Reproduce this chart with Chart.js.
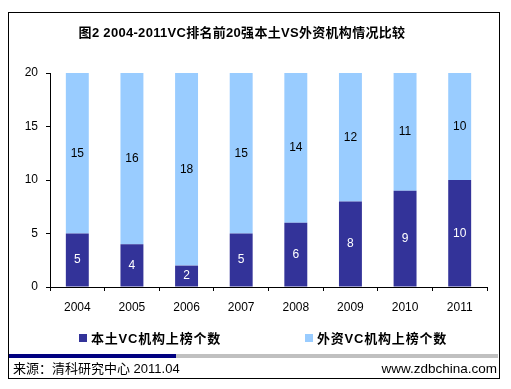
<!DOCTYPE html>
<html><head><meta charset="utf-8">
<script src="https://cdn.jsdelivr.net/npm/chart.js@4"></script>
<style>
html,body{margin:0;padding:0;background:#fff;}
#wrap{position:relative;width:511px;height:389px;overflow:hidden;font-family:"Liberation Sans",Arial,sans-serif;}
#c{position:absolute;left:0;top:0;}
.abs{position:absolute;white-space:nowrap;}
#frame{left:8px;top:12px;width:490px;height:365px;border:1px solid #000;}
#title{left:0;width:484px;top:22px;text-align:center;font:bold 13px "Liberation Sans","Noto Sans CJK SC",sans-serif;color:#000;letter-spacing:0.3px;}
.lg{top:331px;font:bold 13px "Liberation Sans","Noto Sans CJK SC",sans-serif;color:#000;line-height:16px;letter-spacing:0.8px;}
.sw{display:inline-block;width:8px;height:8px;margin-right:4px;vertical-align:1px;}
#bl{left:9px;top:354px;width:167px;height:4px;background:#000080;}
#gl{left:176px;top:354px;width:322px;height:4px;background:#C0C0C0;}
#src{left:13px;top:361px;font:13px "Liberation Sans","Noto Sans CJK SC",sans-serif;color:#000;line-height:16px;}
#url{right:14px;top:361px;font:13.5px "Liberation Sans",Arial,sans-serif;color:#000;line-height:16px;}
</style></head>
<body><div id="wrap">
<canvas id="c" width="511" height="389"></canvas>
<div id="frame" class="abs"></div>
<div id="title" class="abs">图2 2004-2011VC排名前20强本土VS外资机构情况比较</div>
<div class="abs lg" style="left:79px"><span class="sw" style="background:#333399"></span>本土VC机构上榜个数</div>
<div class="abs lg" style="left:305px"><span class="sw" style="background:#99CCFF"></span>外资VC机构上榜个数</div>
<div id="bl" class="abs"></div><div id="gl" class="abs"></div>
<div id="src" class="abs">来源：清科研究中心 2011.04</div>
<div id="url" class="abs">www.zdbchina.com</div>
</div>
<script>
const categories = ["2004","2005","2006","2007","2008","2009","2010","2011"];
const domestic = [5,4,2,5,6,8,9,10];
const foreign = [15,16,18,15,14,12,11,10];
const yTicks = [0,5,10,15,20];
const seriesNames = ["本土VC机构上榜个数","外资VC机构上榜个数"];

const labelPlugin = {
  id:'segLabels',
  afterDatasetsDraw(chart){
    const ctx = chart.ctx;
    ctx.save();
    ctx.font = '12px "Liberation Sans", Arial, sans-serif';
    ctx.textAlign='center'; ctx.textBaseline='middle';
    chart.data.datasets.forEach((ds,i)=>{
      const meta = chart.getDatasetMeta(i);
      meta.data.forEach((bar,j)=>{
        const cy = (bar.y + bar.base)/2;
        ctx.fillStyle = i===0 ? '#ffffff' : '#000000';
        ctx.fillText(String(ds.data[j]), bar.x, cy);
      });
    });
    ctx.restore();
  }
};

new Chart(document.getElementById('c'),{
  type:'bar',
  data:{labels:categories,datasets:[
    {label:seriesNames[0],data:domestic,backgroundColor:'#333399',barPercentage:0.42,categoryPercentage:1},
    {label:seriesNames[1],data:foreign,backgroundColor:'#99CCFF',barPercentage:0.42,categoryPercentage:1}
  ]},
  options:{
    responsive:false,animation:false,
    layout:{padding:{left:0,right:24,top:73,bottom:77}},
    plugins:{legend:{display:false},tooltip:{enabled:false},title:{display:false}},
    scales:{
      x:{stacked:true,
        grid:{offset:true,drawOnChartArea:false,drawTicks:true,tickLength:4,color:'#000',tickColor:'#000'},
        border:{color:'#000',width:1},
        ticks:{color:'#000',font:{family:'"Liberation Sans", Arial, sans-serif',size:12},padding:9,maxRotation:0},
        afterFit(s){s.height=25;}
      },
      y:{stacked:true,min:0,max:20,
        afterBuildTicks(s){s.ticks=yTicks.map(v=>({value:v}));},
        grid:{drawOnChartArea:false,drawTicks:true,tickLength:4,color:'#000',tickColor:'#000'},
        border:{color:'#000',width:1},
        ticks:{color:'#000',font:{family:'"Liberation Sans", Arial, sans-serif',size:12},padding:8},
        afterFit(s){s.width=50;}
      }
    }
  },
  plugins:[labelPlugin]
});
</script>
</body></html>
